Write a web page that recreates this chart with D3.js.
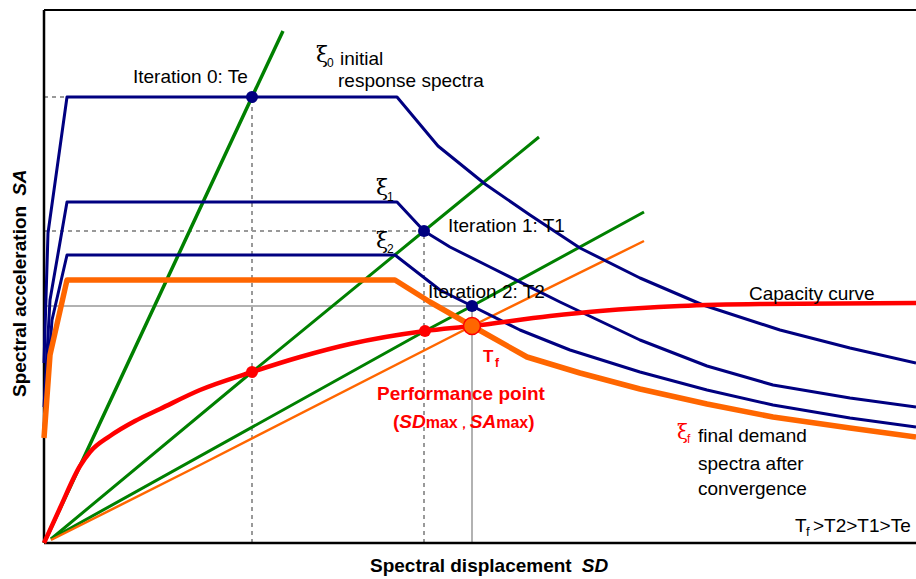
<!DOCTYPE html>
<html><head><meta charset="utf-8">
<script src="https://cdn.jsdelivr.net/npm/d3@7"></script>
<style>
body{margin:0;background:#fff}
svg{display:block}
text{font-family:"Liberation Sans",Arial,sans-serif;fill:#000}
</style>
</head><body>
<svg id="c" width="916" height="579"></svg>
<script>
// ---- data (SD units, SA units) ----
const capacity = [[0,0],[1.6,7.0],[3.6,15.4],[4.6,18.2],[6.6,21.4],[9.1,24.4],[11.6,26.8],[15.6,30.6],[20.8,34.2],[25.6,37.2],[30.6,39.8],[38.1,42.4],[42.8,43.4],[50.6,45.4],[55.6,46.4],[63.6,47.4],[71.6,47.8],[87.2,48.0]];
const xi0 = [[0,36.0],[0.4,62.0],[2.3,89.2],[35.3,89.2],[39.4,79.4],[44.1,71.8],[48.6,65.6],[53.6,59.0],[59.6,53.0],[65.9,47.6],[73.6,42.6],[80.6,39.0],[87.2,36.0]];
const xi1 = [[0,27.2],[0.6,48.6],[2.3,68.2],[35.3,68.2],[38.0,62.4],[40.6,59.2],[44.6,55.2],[51.6,48.2],[59.6,40.6],[66.3,35.4],[72.9,31.6],[80.6,29.0],[87.2,27.2]];
const xi2 = [[0,23.0],[0.8,44.6],[2.3,57.6],[35.1,57.6],[39.6,50.6],[42.8,47.4],[47.6,42.6],[52.6,38.6],[59.6,34.2],[66.3,30.6],[72.9,27.6],[80.6,25.0],[87.2,23.2]];
const xiF = [[0,21.0],[0.6,37.6],[2.3,52.6],[35.1,52.6],[38.6,48.2],[42.8,43.4],[48.3,37.2],[53.6,34.0],[59.6,30.8],[66.3,27.8],[72.9,25.2],[80.6,23.0],[87.2,21.2]];
const periodTe = [[0,0],[20.8,89.2],[23.9,102.4]];
const periodT1 = [[0.7,0.8],[20.8,34.2],[38.0,62.4],[49.5,81.2]];
const periodT2 = [[0.7,0.8],[38.1,42.4],[42.8,47.4],[60.0,66.2]];
const periodTf = [[0.7,0.6],[15.6,15.6],[42.8,43.4],[60.0,60.4]];
const iterPoints = [[20.8,89.2],[38.0,62.4],[42.8,47.4]];
const capPoints = [[20.8,34.2],[38.1,42.4]];
const perfPoint = [[42.8,43.4]];
const iterLabels = ["Iteration 0: Te","Iteration 1: T1","Iteration 2: T2"];

// ---- scales ----
const svg = d3.select('#c');
const x = d3.scaleLinear().domain([0,87.2]).range([44,916]);
const y = d3.scaleLinear().domain([0,106.6]).range([543,10]);
const line = d3.line().x(d=>x(d[0])).y(d=>y(d[1]));
const smooth = d3.line().x(d=>x(d[0])).y(d=>y(d[1])).curve(d3.curveMonotoneX);

const NAVY="#000080", GREEN="#008000", RED="#FF0000", ORANGE="#FF6600", GRAY="#999999";

// guides
const gd = svg.append('g');
iterPoints.slice(0,2).forEach(p=>{
  gd.append('line').attr('x1',x(0)).attr('x2',x(p[0])).attr('y1',y(p[1])).attr('y2',y(p[1]))
    .attr('stroke',GRAY).attr('stroke-width',2).attr('stroke-dasharray','4,4');
  gd.append('line').attr('x1',x(p[0])).attr('x2',x(p[0])).attr('y1',y(0)).attr('y2',y(p[1]))
    .attr('stroke',GRAY).attr('stroke-width',2).attr('stroke-dasharray','4,4');
});
{
  const p = iterPoints[2];
  gd.append('line').attr('x1',x(0)).attr('x2',x(p[0])).attr('y1',y(p[1])).attr('y2',y(p[1]))
    .attr('stroke',GRAY).attr('stroke-width',1.5);
  gd.append('line').attr('x1',x(p[0])).attr('x2',x(p[0])).attr('y1',y(0)).attr('y2',y(p[1]))
    .attr('stroke',GRAY).attr('stroke-width',1.5);
}

// axes frame
svg.append('line').attr('x1',x(0)).attr('x2',916).attr('y1',y(106.6)).attr('y2',y(106.6)).attr('stroke','#000').attr('stroke-width',2);
svg.append('line').attr('x1',x(0)).attr('x2',x(0)).attr('y1',y(106.6)).attr('y2',y(0)).attr('stroke','#000').attr('stroke-width',2.5);
svg.append('line').attr('x1',x(0)).attr('x2',916).attr('y1',y(0)).attr('y2',y(0)).attr('stroke','#000').attr('stroke-width',2.5);

// period lines
const path=(data,color,w,gen=line)=>svg.append('path').datum(data).attr('d',gen).attr('fill','none')
  .attr('stroke',color).attr('stroke-width',w).attr('stroke-linejoin','round');
path(periodTe,GREEN,3.5);
path(periodT1,GREEN,3);
path(periodT2,GREEN,3);
path(periodTf,ORANGE,2.5);
// spectra
path(xi0,NAVY,3);
path(xi1,NAVY,3);
path(xi2,NAVY,3);
path(xiF,ORANGE,5.5);
// capacity
path(capacity,RED,4.5,smooth);

// points
svg.selectAll('circle.it').data(iterPoints).join('circle').attr('class','it')
  .attr('cx',d=>x(d[0])).attr('cy',d=>y(d[1])).attr('r',6).attr('fill',NAVY);
svg.selectAll('circle.cp').data(capPoints).join('circle').attr('class','cp')
  .attr('cx',d=>x(d[0])).attr('cy',d=>y(d[1])).attr('r',6).attr('fill',RED);
svg.selectAll('circle.pp').data(perfPoint).join('circle').attr('class','pp')
  .attr('cx',d=>x(d[0])).attr('cy',d=>y(d[1])).attr('r',8.5).attr('fill',ORANGE)
  .attr('stroke',RED).attr('stroke-width',1.5);

// ---- text ----
const T=(tx,ty,s,o={})=>{const t=svg.append('text').attr('x',tx).attr('y',ty).text(s)
  .style('font-size',(o.size||19)+'px');
  if(o.weight) t.style('font-weight',o.weight);
  if(o.fill) t.style('fill',o.fill);
  if(o.family) t.style('font-family',o.family);
  if(o.style) t.style('font-style',o.style);
  return t;};
const SERIF='"DejaVu Serif","Liberation Serif",serif';

T(133,83,iterLabels[0]);
T(448,232,iterLabels[1]);
T(428,298,iterLabels[2]);

T(316,62,'ξ',{size:22,family:SERIF});
T(327,67,'0',{size:12});
T(340,65,'initial');
T(338,87,'response spectra');

T(376,195,'ξ',{size:22,family:SERIF});
T(387,201,'1',{size:12});
T(376,248,'ξ',{size:22,family:SERIF});
T(387,253,'2',{size:12});

T(749,300,'Capacity curve');

T(483,362,'T',{size:17,weight:'bold',fill:RED});
T(495,367,'f',{size:12,weight:'bold',fill:RED});
T(377,400,'Performance point',{weight:'bold',fill:RED});
{
  const t=svg.append('text').attr('x',393).attr('y',428).style('font-size','19px')
    .style('font-weight','bold').style('fill',RED);
  t.append('tspan').text('(');
  t.append('tspan').text('SD').style('font-style','italic');
  t.append('tspan').text('max').style('font-size','16px');
  t.append('tspan').text('，').style('font-size','12px');
  t.append('tspan').text('SA').style('font-style','italic');
  t.append('tspan').text('max').style('font-size','16px');
  t.append('tspan').text(')');
}

T(677,439,'ξ',{size:20,family:SERIF,fill:RED});
T(687,443,'f',{size:12,fill:RED});
T(698,442,'final demand');
T(698,470,'spectra after');
T(698,495,'convergence');

T(795,532,'T');
T(806,536,'f',{size:13});
T(813,532,'>T2>T1>Te');

{
  const t=svg.append('text').attr('x',370).attr('y',572).style('font-size','19px').style('font-weight','bold');
  t.append('tspan').text('Spectral displacement');
  t.append('tspan').attr('dx',10).text('SD').style('font-style','italic');
}
{
  const t=svg.append('text').attr('transform','translate(26,397) rotate(-90)').style('font-size','19px').style('font-weight','bold');
  t.append('tspan').text('Spectral acceleration');
  t.append('tspan').attr('dx',10).text('SA').style('font-style','italic');
}
</script>
</body></html>
